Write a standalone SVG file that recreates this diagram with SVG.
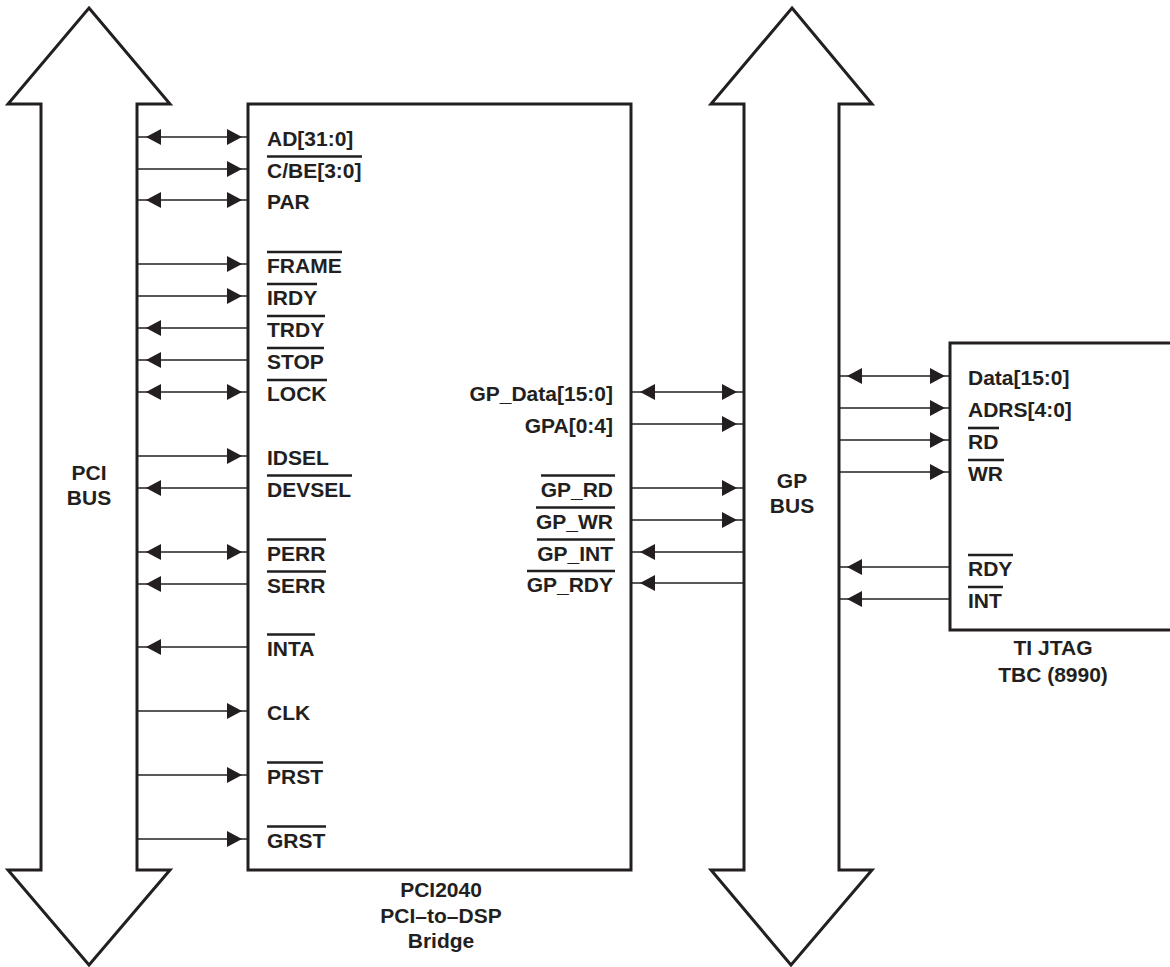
<svg xmlns="http://www.w3.org/2000/svg" xmlns:xlink="http://www.w3.org/1999/xlink" width="1170" height="967" viewBox="0 0 1170 967">
<style>
.bus{fill:#fff;stroke:#231f20;stroke-width:3;stroke-linejoin:miter}
.box{fill:#fff;stroke:#231f20;stroke-width:3}
.ln{stroke:#231f20;stroke-width:1.5;fill:none}
.ob{stroke:#231f20;stroke-width:2.6}
.ah{fill:#231f20}
text{font-family:"Liberation Sans",Arial,Helvetica,sans-serif;font-weight:bold;font-size:21px;fill:#231f20}
.mid{text-anchor:middle}
.end{text-anchor:end}
</style>
<defs>
<path id="ahR" class="ah" d="M0,0 L-15,-8 L-15,8 Z"/>
<path id="ahL" class="ah" d="M0,0 L15,-8 L15,8 Z"/>
</defs>
<rect width="1170" height="967" fill="#fff"/>

<g id="pci-bus">
<path class="bus" d="M89,8 L170,104 L137,104 L137,870 L170,870 L89,965 L8,870 L41,870 L41,104 L8,104 Z"/>
<text class="mid" x="89" y="480">PCI</text>
<text class="mid" x="89" y="505">BUS</text>
</g>

<g id="gp-bus">
<path class="bus" d="M792,8 L872,104 L839,104 L839,870 L872,870 L791,965 L711,870 L744,870 L744,104 L711,104 Z"/>
<text class="mid" x="792" y="488">GP</text>
<text class="mid" x="792" y="513">BUS</text>
</g>

<g id="pci2040">
<rect class="box" x="248" y="104" width="383" height="766"/>
<text x="267" y="146">AD[31:0]</text>
<text x="267" y="178">C/BE[3:0]</text><line class="ob" x1="267" y1="156.5" x2="362" y2="156.5"/>
<text x="267" y="209">PAR</text>
<text x="267" y="273">FRAME</text><line class="ob" x1="267" y1="252" x2="342" y2="252"/>
<text x="267" y="305">IRDY</text><line class="ob" x1="267" y1="284" x2="317" y2="284"/>
<text x="267" y="337">TRDY</text><line class="ob" x1="267" y1="316" x2="325" y2="316"/>
<text x="267" y="369">STOP</text><line class="ob" x1="267" y1="348" x2="324" y2="348"/>
<text x="267" y="401">LOCK</text><line class="ob" x1="267" y1="380" x2="327" y2="380"/>
<text x="267" y="465">IDSEL</text>
<text x="267" y="497">DEVSEL</text><line class="ob" x1="267" y1="475.5" x2="352" y2="475.5"/>
<text x="267" y="561">PERR</text><line class="ob" x1="267" y1="539.5" x2="326" y2="539.5"/>
<text x="267" y="593">SERR</text><line class="ob" x1="267" y1="571.5" x2="326" y2="571.5"/>
<text x="267" y="656">INTA</text><line class="ob" x1="267" y1="634.5" x2="315" y2="634.5"/>
<text x="267" y="720">CLK</text>
<text x="267" y="784">PRST</text><line class="ob" x1="267" y1="762.5" x2="323" y2="762.5"/>
<text x="267" y="848">GRST</text><line class="ob" x1="267" y1="826.5" x2="326" y2="826.5"/>
<text class="end" x="613" y="401">GP_Data[15:0]</text>
<text class="end" x="613" y="433">GPA[0:4]</text>
<text class="end" x="613" y="497">GP_RD</text><line class="ob" x1="541" y1="475.5" x2="615" y2="475.5"/>
<text class="end" x="613" y="529">GP_WR</text><line class="ob" x1="536" y1="507.5" x2="615" y2="507.5"/>
<text class="end" x="613" y="561">GP_INT</text><line class="ob" x1="537" y1="539.5" x2="615" y2="539.5"/>
<text class="end" x="613" y="592">GP_RDY</text><line class="ob" x1="527" y1="571" x2="615" y2="571"/>
<text class="mid" x="441" y="897">PCI2040</text>
<text class="mid" x="441" y="923">PCI–to–DSP</text>
<text class="mid" x="441" y="948">Bridge</text>
</g>

<g id="jtag-tbc">
<rect class="box" x="950" y="343" width="240" height="287"/>
<text x="968" y="385">Data[15:0]</text>
<text x="968" y="417">ADRS[4:0]</text>
<text x="968" y="449">RD</text><line class="ob" x1="968" y1="428" x2="999" y2="428"/>
<text x="968" y="481">WR</text><line class="ob" x1="968" y1="460" x2="1004" y2="460"/>
<text x="968" y="576">RDY</text><line class="ob" x1="968" y1="555" x2="1013" y2="555"/>
<text x="968" y="608">INT</text><line class="ob" x1="968" y1="587" x2="1003" y2="587"/>
<text class="mid" x="1053" y="655">TI JTAG</text>
<text class="mid" x="1053" y="682">TBC (8990)</text>
</g>

<g id="connectors">
<!-- PCI bus to PCI2040 -->
<line class="ln" x1="137" y1="137" x2="248" y2="137"/><use xlink:href="#ahL" x="146" y="137"/><use xlink:href="#ahR" x="242" y="137"/>
<line class="ln" x1="137" y1="169" x2="248" y2="169"/><use xlink:href="#ahR" x="242" y="169"/>
<line class="ln" x1="137" y1="200" x2="248" y2="200"/><use xlink:href="#ahL" x="146" y="200"/><use xlink:href="#ahR" x="242" y="200"/>
<line class="ln" x1="137" y1="264" x2="248" y2="264"/><use xlink:href="#ahR" x="242" y="264"/>
<line class="ln" x1="137" y1="296" x2="248" y2="296"/><use xlink:href="#ahR" x="242" y="296"/>
<line class="ln" x1="137" y1="328" x2="248" y2="328"/><use xlink:href="#ahL" x="146" y="328"/>
<line class="ln" x1="137" y1="360" x2="248" y2="360"/><use xlink:href="#ahL" x="146" y="360"/>
<line class="ln" x1="137" y1="392" x2="248" y2="392"/><use xlink:href="#ahL" x="146" y="392"/><use xlink:href="#ahR" x="242" y="392"/>
<line class="ln" x1="137" y1="456" x2="248" y2="456"/><use xlink:href="#ahR" x="242" y="456"/>
<line class="ln" x1="137" y1="488" x2="248" y2="488"/><use xlink:href="#ahL" x="146" y="488"/>
<line class="ln" x1="137" y1="552" x2="248" y2="552"/><use xlink:href="#ahL" x="146" y="552"/><use xlink:href="#ahR" x="242" y="552"/>
<line class="ln" x1="137" y1="584" x2="248" y2="584"/><use xlink:href="#ahL" x="146" y="584"/>
<line class="ln" x1="137" y1="647" x2="248" y2="647"/><use xlink:href="#ahL" x="146" y="647"/>
<line class="ln" x1="137" y1="711" x2="248" y2="711"/><use xlink:href="#ahR" x="242" y="711"/>
<line class="ln" x1="137" y1="775" x2="248" y2="775"/><use xlink:href="#ahR" x="242" y="775"/>
<line class="ln" x1="137" y1="839" x2="248" y2="839"/><use xlink:href="#ahR" x="242" y="839"/>
<!-- PCI2040 to GP bus -->
<line class="ln" x1="631" y1="392" x2="744" y2="392"/><use xlink:href="#ahL" x="640" y="392"/><use xlink:href="#ahR" x="737" y="392"/>
<line class="ln" x1="631" y1="424" x2="744" y2="424"/><use xlink:href="#ahR" x="737" y="424"/>
<line class="ln" x1="631" y1="488" x2="744" y2="488"/><use xlink:href="#ahR" x="737" y="488"/>
<line class="ln" x1="631" y1="520" x2="744" y2="520"/><use xlink:href="#ahR" x="737" y="520"/>
<line class="ln" x1="631" y1="552" x2="744" y2="552"/><use xlink:href="#ahL" x="640" y="552"/>
<line class="ln" x1="631" y1="583" x2="744" y2="583"/><use xlink:href="#ahL" x="640" y="583"/>
<!-- GP bus to JTAG -->
<line class="ln" x1="839" y1="376" x2="950" y2="376"/><use xlink:href="#ahL" x="847" y="376"/><use xlink:href="#ahR" x="945" y="376"/>
<line class="ln" x1="839" y1="408" x2="950" y2="408"/><use xlink:href="#ahR" x="945" y="408"/>
<line class="ln" x1="839" y1="440" x2="950" y2="440"/><use xlink:href="#ahR" x="945" y="440"/>
<line class="ln" x1="839" y1="472" x2="950" y2="472"/><use xlink:href="#ahR" x="945" y="472"/>
<line class="ln" x1="839" y1="567" x2="950" y2="567"/><use xlink:href="#ahL" x="847" y="567"/>
<line class="ln" x1="839" y1="599" x2="950" y2="599"/><use xlink:href="#ahL" x="847" y="599"/>
</g>
</svg>
